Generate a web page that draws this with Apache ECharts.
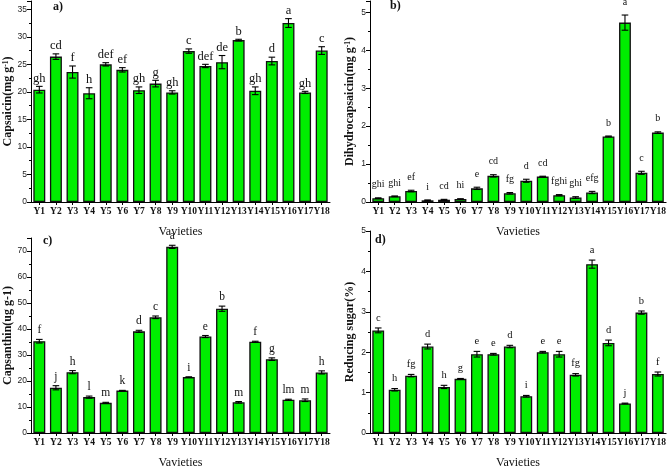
<!DOCTYPE html>
<html><head><meta charset="utf-8">
<script src="https://cdn.jsdelivr.net/npm/echarts@6/dist/echarts.min.js"></script>
<style>html,body{margin:0;padding:0;background:#fff}#c{width:669px;height:470px}</style>
</head><body><div id="c"></div>
<script>
const categories = ['Y1','Y2','Y3','Y4','Y5','Y6','Y7','Y8','Y9','Y10','Y11','Y12','Y13','Y14','Y15','Y16','Y17','Y18'];

const capsaicin    = [20.4, 26.4, 23.6, 19.75, 25.0, 24.0, 20.3, 21.5, 19.9, 27.4, 24.7, 25.4, 29.4, 20.2, 25.6, 32.5, 19.9, 27.5];
const capsaicinErr = [0.6, 0.5, 1.1, 1.0, 0.3, 0.4, 0.6, 0.6, 0.3, 0.4, 0.3, 1.2, 0.15, 0.7, 0.7, 0.8, 0.2, 0.7];
const capsaicinLet = ['gh','cd','f','h','def','ef','gh','g','gh','c','def','de','b','gh','d','a','gh','c'];

const dihydro    = [0.10, 0.15, 0.29, 0.045, 0.06, 0.08, 0.36, 0.69, 0.23, 0.56, 0.67, 0.18, 0.12, 0.25, 1.73, 4.73, 0.77, 1.83];
const dihydroErr = [0.01, 0.01, 0.02, 0.01, 0.01, 0.005, 0.03, 0.03, 0.02, 0.04, 0.01, 0.015, 0.02, 0.03, 0.01, 0.2, 0.04, 0.02];
const dihydroLet = ['ghi','ghi','ef','i','cd','hi','e','cd','fg','d','cd','fghi','ghi','efg','b','a','c','b'];

const capsanthin    = [35.3, 17.4, 23.4, 13.8, 11.6, 16.3, 39.1, 44.5, 71.6, 21.5, 37.1, 47.8, 11.8, 35.1, 28.4, 12.8, 12.6, 23.3];
const capsanthinErr = [0.7, 0.8, 0.6, 0.4, 0.2, 0.1, 0.4, 0.5, 0.6, 0.1, 0.4, 1.0, 0.3, 0.2, 0.5, 0.2, 0.5, 0.6];
const capsanthinLet = ['f','j','h','l','m','k','d','c','a','i','e','b','m','f','g','lm','m','h'];

const sugar    = [2.54, 1.07, 1.42, 2.14, 1.14, 1.34, 1.95, 1.95, 2.14, 0.91, 2.0, 1.95, 1.44, 4.18, 2.23, 0.73, 2.98, 1.46];
const sugarErr = [0.06, 0.03, 0.03, 0.06, 0.04, 0.01, 0.07, 0.02, 0.03, 0.02, 0.02, 0.07, 0.03, 0.1, 0.07, 0.01, 0.04, 0.05];
const sugarLet = ['c','h','fg','d','h','g','e','e','d','i','e','e','fg','a','d','j','b','f'];

const SERIF = '"Liberation Serif", "Times New Roman", serif';
const SANS = '"Liberation Sans", Arial, sans-serif';
const GREEN = '#00ee00';

function xAx(gi) {
  return {
    type: 'category', gridIndex: gi, data: categories, boundaryGap: true,
    name: 'Vavieties', nameLocation: 'middle', nameGap: 24,
    nameTextStyle: { fontFamily: SERIF, fontSize: 12, color: '#111' },
    axisLine: { show: true, lineStyle: { color: '#000', width: 1 } },
    axisTick: { show: true, alignWithLabel: true, length: 3, lineStyle: { color: '#000' } },
    axisLabel: { interval: 0, fontFamily: SERIF, fontSize: 9.5, fontWeight: 'bold', color: '#111', margin: 5 }
  };
}
function yAx(gi, max, interval, name, nameGap, rich) {
  return {
    type: 'value', gridIndex: gi, min: 0, max: max, interval: interval,
    name: name, nameLocation: 'middle', nameGap: nameGap,
    nameTextStyle: Object.assign({ fontFamily: SERIF, fontSize: 12, fontWeight: 'bold', color: '#111' }, rich ? { rich: rich } : {}),
    axisLine: { show: true, lineStyle: { color: '#000', width: 1 } },
    axisTick: { show: true, length: 4, lineStyle: { color: '#000' } },
    minorTick: { show: true, splitNumber: 2, length: 2, lineStyle: { color: '#000' } },
    splitLine: { show: false },
    axisLabel: {
      fontFamily: SANS, fontSize: 8.5, color: '#222', margin: 4,
      formatter: function (v) { const r = v / interval; return Math.abs(r - Math.round(r)) < 1e-6 ? String(Math.round(v * 100) / 100) : ''; }
    }
  };
}
function barSeries(gi, vals) {
  return {
    type: 'bar', xAxisIndex: gi, yAxisIndex: gi, data: vals, barWidth: '72%',
    itemStyle: { color: GREEN, borderColor: '#111', borderWidth: 1.3 }, z: 2
  };
}
function errSeries(gi, vals, errs, letters, offset, fs) {
  return {
    type: 'custom', xAxisIndex: gi, yAxisIndex: gi, z: 5,
    data: vals.map(function (v, i) { return [i, v, errs[i]]; }),
    encode: { x: 0, y: 1 },
    renderItem: function (params, api) {
      const i = api.value(0), v = api.value(1), e = api.value(2);
      const top = api.coord([i, v + e]);
      const bot = api.coord([i, v - e]);
      const hw = 3.3;
      const ls = { stroke: '#000', lineWidth: 1.1 };
      return {
        type: 'group', children: [
          { type: 'line', shape: { x1: top[0], y1: top[1], x2: bot[0], y2: bot[1] }, style: ls },
          { type: 'line', shape: { x1: top[0] - hw, y1: top[1], x2: top[0] + hw, y2: top[1] }, style: ls },
          { type: 'line', shape: { x1: bot[0] - hw, y1: bot[1], x2: bot[0] + hw, y2: bot[1] }, style: ls },
          { type: 'text', x: top[0], y: top[1] - offset,
            style: { text: letters[params.dataIndex], align: 'center', verticalAlign: 'middle', fontFamily: SERIF, fontSize: fs, fill: '#111' } }
        ]
      };
    }
  };
}

const chart = echarts.init(document.getElementById('c'), null, { renderer: 'canvas' });
chart.setOption({
  animation: false,
  backgroundColor: '#fff',
  grid: [
    { left: 31, top: 1, width: 299, height: 201 },
    { left: 370, top: 1, width: 298, height: 201 },
    { left: 31, top: 238, width: 299, height: 201 },
    { left: 370, top: 231, width: 298, height: 208 }
  ],
  xAxis: [xAx(0), xAx(1), xAx(2), xAx(3)],
  yAxis: [
    yAx(0, 36.5, 5, '{n|Capsaicin(mg g}{s|-1}{n|)}', 13, {
      n: { fontFamily: SERIF, fontSize: 12, fontWeight: 'bold', color: '#111' },
      s: { fontFamily: SERIF, fontSize: 7.5, fontWeight: 'bold', color: '#111', verticalAlign: 'top', lineHeight: 8 } }),
    yAx(1, 5.3, 1, '{n|Dihydrocapsaicin(mg g}{s|-1}{n|)}', 14, {
      n: { fontFamily: SERIF, fontSize: 12, fontWeight: 'bold', color: '#111' },
      s: { fontFamily: SERIF, fontSize: 7.5, fontWeight: 'bold', color: '#111', verticalAlign: 'top', lineHeight: 8 } }),
    yAx(2, 75, 10, 'Capsanthin(ug g-1)', 14),
    yAx(3, 5, 1, 'Reducing sugar(%)', 14)
  ],
  series: [
    barSeries(0, capsaicin), errSeries(0, capsaicin, capsaicinErr, capsaicinLet, 8, 12.5),
    barSeries(1, dihydro), errSeries(1, dihydro, dihydroErr, dihydroLet, 13, 10),
    barSeries(2, capsanthin), errSeries(2, capsanthin, capsanthinErr, capsanthinLet, 9, 11.5),
    barSeries(3, sugar), errSeries(3, sugar, sugarErr, sugarLet, 10, 10.5)
  ],
  graphic: [
    { type: 'text', left: 53, top: 1, style: { text: 'a)', fontFamily: SERIF, fontSize: 12, fontWeight: 'bold', fill: '#111' } },
    { type: 'text', left: 390, top: 0, style: { text: 'b)', fontFamily: SERIF, fontSize: 12, fontWeight: 'bold', fill: '#111' } },
    { type: 'text', left: 43, top: 235, style: { text: 'c)', fontFamily: SERIF, fontSize: 12, fontWeight: 'bold', fill: '#111' } },
    { type: 'text', left: 375, top: 234, style: { text: 'd)', fontFamily: SERIF, fontSize: 12, fontWeight: 'bold', fill: '#111' } }
  ]
});
</script>
</body></html>
